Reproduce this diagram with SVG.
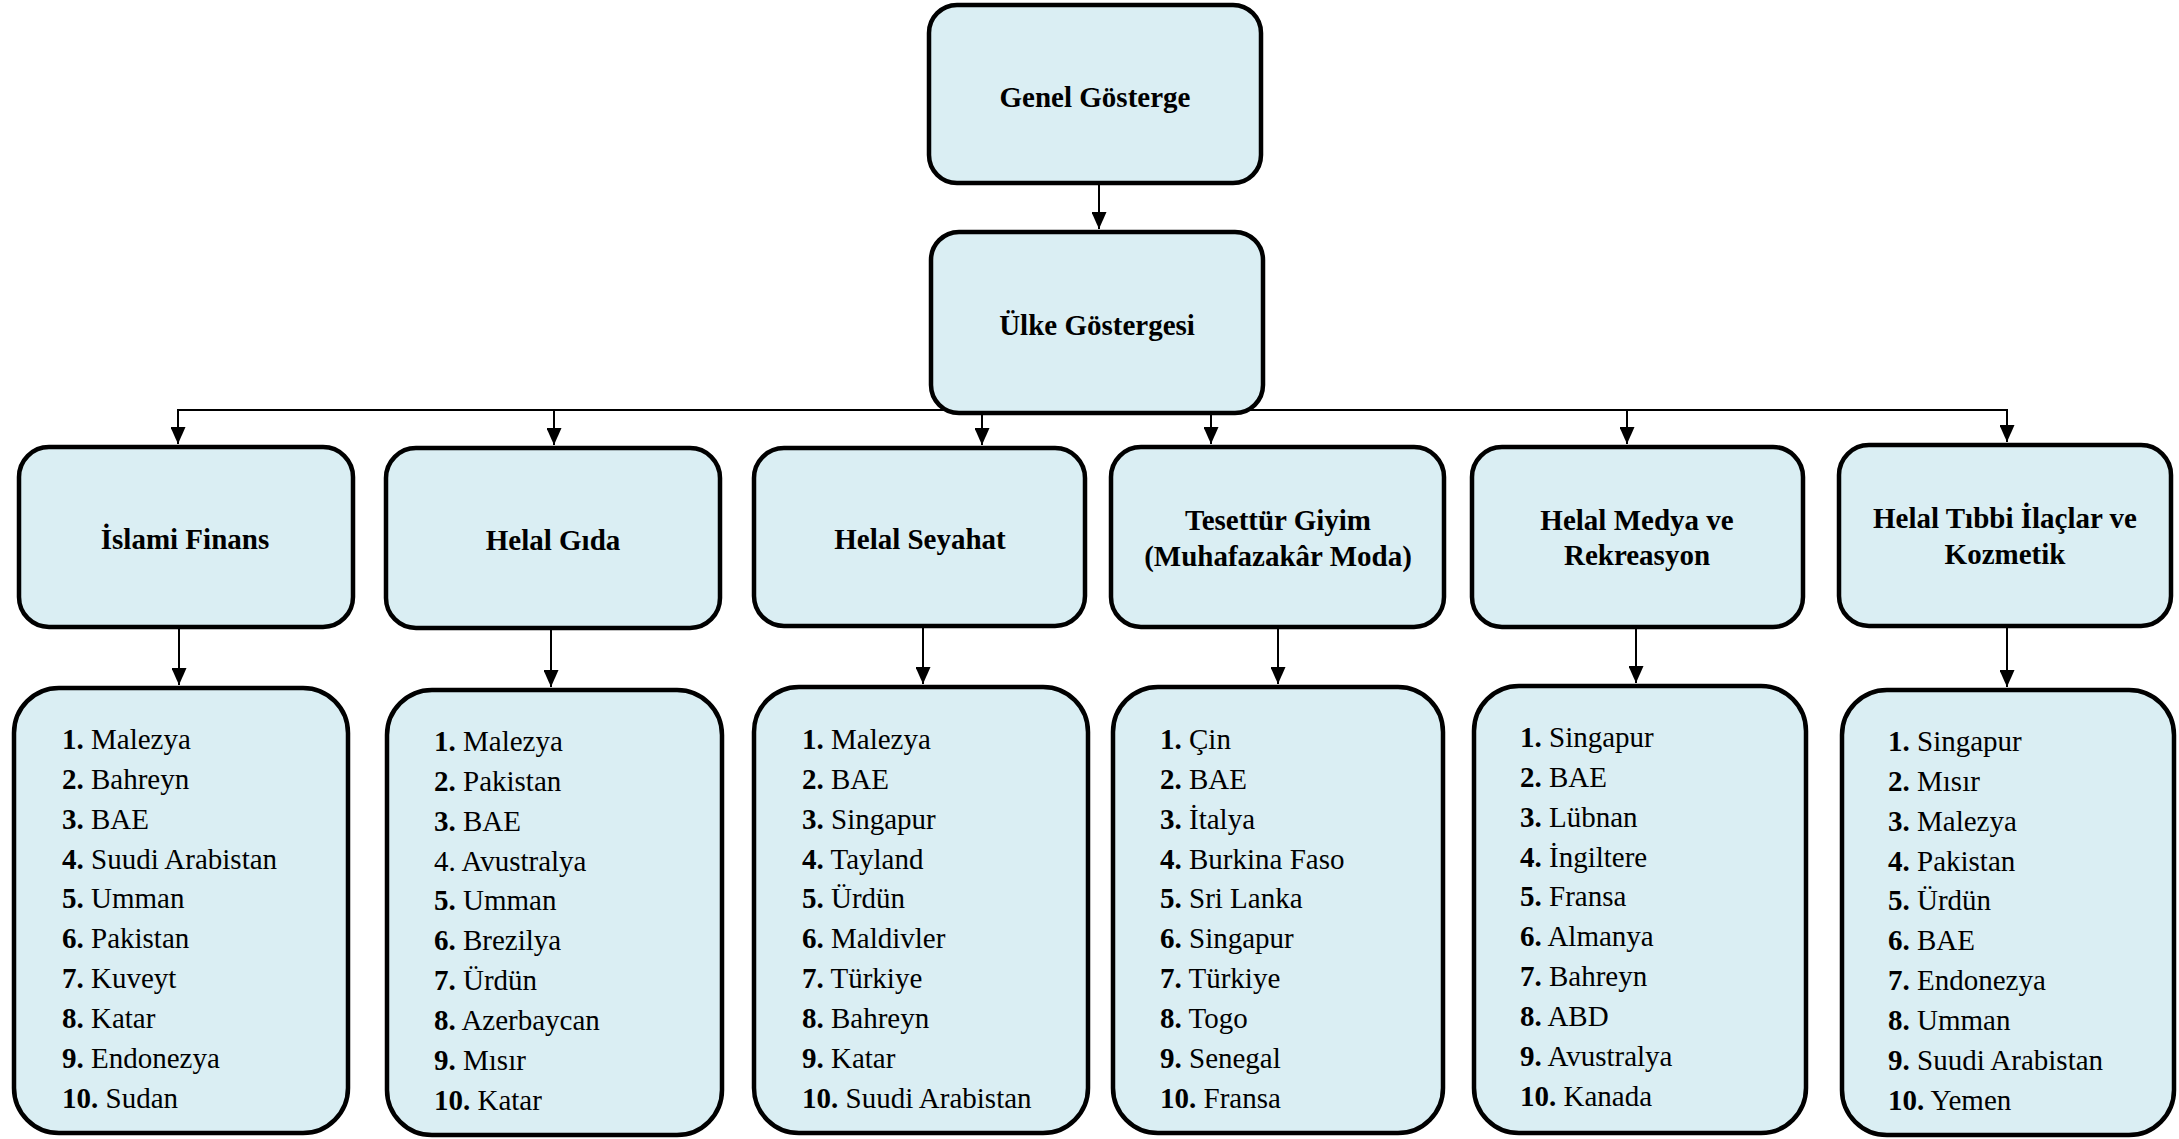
<svg xmlns="http://www.w3.org/2000/svg" width="2179" height="1139" viewBox="0 0 2179 1139">
<style>
.box{fill:#DAEEF3;stroke:#000;stroke-width:4.5}
.t{font-family:"Liberation Serif","Times New Roman",serif;font-size:29px;fill:#000}
.h{font-weight:bold;text-anchor:middle}
.b{font-weight:bold}
.c{fill:none;stroke:#000;stroke-width:2}
</style>
<defs>
<marker id="ah" markerUnits="userSpaceOnUse" markerWidth="17" markerHeight="15" refX="17" refY="7.5" orient="auto">
<path d="M0,0 L17,7.5 L0,15 z" fill="#000"/>
</marker>
</defs>
<g id="connectors">
<line class="c" x1="1099" y1="185" x2="1099" y2="229" marker-end="url(#ah)"/>
<line class="c" x1="177" y1="410" x2="2008" y2="410"/>
<line class="c" x1="178" y1="410" x2="178" y2="444" marker-end="url(#ah)"/>
<line class="c" x1="554" y1="410" x2="554" y2="445" marker-end="url(#ah)"/>
<line class="c" x1="982" y1="410" x2="982" y2="445" marker-end="url(#ah)"/>
<line class="c" x1="1211" y1="410" x2="1211" y2="444" marker-end="url(#ah)"/>
<line class="c" x1="1627" y1="410" x2="1627" y2="444" marker-end="url(#ah)"/>
<line class="c" x1="2007" y1="410" x2="2007" y2="442" marker-end="url(#ah)"/>
<line class="c" x1="179" y1="629" x2="179" y2="685" marker-end="url(#ah)"/>
<line class="c" x1="551" y1="630" x2="551" y2="687" marker-end="url(#ah)"/>
<line class="c" x1="923" y1="628" x2="923" y2="684" marker-end="url(#ah)"/>
<line class="c" x1="1278" y1="629" x2="1278" y2="684" marker-end="url(#ah)"/>
<line class="c" x1="1636" y1="629" x2="1636" y2="683" marker-end="url(#ah)"/>
<line class="c" x1="2007" y1="628" x2="2007" y2="687" marker-end="url(#ah)"/>
</g>
<g id="genel">
<rect class="box" x="929" y="5" width="332" height="178" rx="28"/>
<text class="t h" x="1095" y="107">Genel Gösterge</text>
</g>
<g id="ulke">
<rect class="box" x="931" y="232" width="332" height="181" rx="28"/>
<text class="t h" x="1097" y="335">Ülke Göstergesi</text>
</g>
<g id="cat-finans">
<rect class="box" x="19" y="447" width="334" height="180" rx="30"/>
<text class="t h" x="185" y="549">İslami Finans</text>
</g>
<g id="cat-gida">
<rect class="box" x="386" y="448" width="334" height="180" rx="30"/>
<text class="t h" x="553" y="550">Helal Gıda</text>
</g>
<g id="cat-seyahat">
<rect class="box" x="754" y="448" width="331" height="178" rx="30"/>
<text class="t h" x="920" y="549">Helal Seyahat</text>
</g>
<g id="cat-tesettur">
<rect class="box" x="1111" y="447" width="333" height="180" rx="30"/>
<text class="t h" x="1278" y="530">Tesettür Giyim</text>
<text class="t h" x="1278" y="566">(Muhafazakâr Moda)</text>
</g>
<g id="cat-medya">
<rect class="box" x="1472" y="447" width="331" height="180" rx="30"/>
<text class="t h" x="1637" y="530">Helal Medya ve</text>
<text class="t h" x="1637" y="565">Rekreasyon</text>
</g>
<g id="cat-tibbi">
<rect class="box" x="1839" y="445" width="332" height="181" rx="30"/>
<text class="t h" x="2005" y="528">Helal Tıbbi İlaçlar ve</text>
<text class="t h" x="2005" y="564">Kozmetik</text>
</g>
<g id="list-finans">
<rect class="box" x="14" y="688" width="334" height="445" rx="45"/>
<text class="t" x="62" y="749"><tspan class="b">1.</tspan> Malezya</text>
<text class="t" x="62" y="789"><tspan class="b">2.</tspan> Bahreyn</text>
<text class="t" x="62" y="829"><tspan class="b">3.</tspan> BAE</text>
<text class="t" x="62" y="869"><tspan class="b">4.</tspan> Suudi Arabistan</text>
<text class="t" x="62" y="908"><tspan class="b">5.</tspan> Umman</text>
<text class="t" x="62" y="948"><tspan class="b">6.</tspan> Pakistan</text>
<text class="t" x="62" y="988"><tspan class="b">7.</tspan> Kuveyt</text>
<text class="t" x="62" y="1028"><tspan class="b">8.</tspan> Katar</text>
<text class="t" x="62" y="1068"><tspan class="b">9.</tspan> Endonezya</text>
<text class="t" x="62" y="1108"><tspan class="b">10.</tspan> Sudan</text>
</g>
<g id="list-gida">
<rect class="box" x="387" y="690" width="335" height="445" rx="45"/>
<text class="t" x="434" y="751"><tspan class="b">1.</tspan> Malezya</text>
<text class="t" x="434" y="791"><tspan class="b">2.</tspan> Pakistan</text>
<text class="t" x="434" y="831"><tspan class="b">3.</tspan> BAE</text>
<text class="t" x="434" y="871">4. Avustralya</text>
<text class="t" x="434" y="910"><tspan class="b">5.</tspan> Umman</text>
<text class="t" x="434" y="950"><tspan class="b">6.</tspan> Brezilya</text>
<text class="t" x="434" y="990"><tspan class="b">7.</tspan> Ürdün</text>
<text class="t" x="434" y="1030"><tspan class="b">8.</tspan> Azerbaycan</text>
<text class="t" x="434" y="1070"><tspan class="b">9.</tspan> Mısır</text>
<text class="t" x="434" y="1110"><tspan class="b">10.</tspan> Katar</text>
</g>
<g id="list-seyahat">
<rect class="box" x="754" y="687" width="334" height="446" rx="45"/>
<text class="t" x="802" y="749"><tspan class="b">1.</tspan> Malezya</text>
<text class="t" x="802" y="789"><tspan class="b">2.</tspan> BAE</text>
<text class="t" x="802" y="829"><tspan class="b">3.</tspan> Singapur</text>
<text class="t" x="802" y="869"><tspan class="b">4.</tspan> Tayland</text>
<text class="t" x="802" y="908"><tspan class="b">5.</tspan> Ürdün</text>
<text class="t" x="802" y="948"><tspan class="b">6.</tspan> Maldivler</text>
<text class="t" x="802" y="988"><tspan class="b">7.</tspan> Türkiye</text>
<text class="t" x="802" y="1028"><tspan class="b">8.</tspan> Bahreyn</text>
<text class="t" x="802" y="1068"><tspan class="b">9.</tspan> Katar</text>
<text class="t" x="802" y="1108"><tspan class="b">10.</tspan> Suudi Arabistan</text>
</g>
<g id="list-tesettur">
<rect class="box" x="1113" y="687" width="330" height="446" rx="45"/>
<text class="t" x="1160" y="749"><tspan class="b">1.</tspan> Çin</text>
<text class="t" x="1160" y="789"><tspan class="b">2.</tspan> BAE</text>
<text class="t" x="1160" y="829"><tspan class="b">3.</tspan> İtalya</text>
<text class="t" x="1160" y="869"><tspan class="b">4.</tspan> Burkina Faso</text>
<text class="t" x="1160" y="908"><tspan class="b">5.</tspan> Sri Lanka</text>
<text class="t" x="1160" y="948"><tspan class="b">6.</tspan> Singapur</text>
<text class="t" x="1160" y="988"><tspan class="b">7.</tspan> Türkiye</text>
<text class="t" x="1160" y="1028"><tspan class="b">8.</tspan> Togo</text>
<text class="t" x="1160" y="1068"><tspan class="b">9.</tspan> Senegal</text>
<text class="t" x="1160" y="1108"><tspan class="b">10.</tspan> Fransa</text>
</g>
<g id="list-medya">
<rect class="box" x="1474" y="686" width="332" height="447" rx="45"/>
<text class="t" x="1520" y="747"><tspan class="b">1.</tspan> Singapur</text>
<text class="t" x="1520" y="787"><tspan class="b">2.</tspan> BAE</text>
<text class="t" x="1520" y="827"><tspan class="b">3.</tspan> Lübnan</text>
<text class="t" x="1520" y="867"><tspan class="b">4.</tspan> İngiltere</text>
<text class="t" x="1520" y="906"><tspan class="b">5.</tspan> Fransa</text>
<text class="t" x="1520" y="946"><tspan class="b">6.</tspan> Almanya</text>
<text class="t" x="1520" y="986"><tspan class="b">7.</tspan> Bahreyn</text>
<text class="t" x="1520" y="1026"><tspan class="b">8.</tspan> ABD</text>
<text class="t" x="1520" y="1066"><tspan class="b">9.</tspan> Avustralya</text>
<text class="t" x="1520" y="1106"><tspan class="b">10.</tspan> Kanada</text>
</g>
<g id="list-tibbi">
<rect class="box" x="1842" y="690" width="332" height="445" rx="45"/>
<text class="t" x="1888" y="751"><tspan class="b">1.</tspan> Singapur</text>
<text class="t" x="1888" y="791"><tspan class="b">2.</tspan> Mısır</text>
<text class="t" x="1888" y="831"><tspan class="b">3.</tspan> Malezya</text>
<text class="t" x="1888" y="871"><tspan class="b">4.</tspan> Pakistan</text>
<text class="t" x="1888" y="910"><tspan class="b">5.</tspan> Ürdün</text>
<text class="t" x="1888" y="950"><tspan class="b">6.</tspan> BAE</text>
<text class="t" x="1888" y="990"><tspan class="b">7.</tspan> Endonezya</text>
<text class="t" x="1888" y="1030"><tspan class="b">8.</tspan> Umman</text>
<text class="t" x="1888" y="1070"><tspan class="b">9.</tspan> Suudi Arabistan</text>
<text class="t" x="1888" y="1110"><tspan class="b">10.</tspan> Yemen</text>
</g>
</svg>
